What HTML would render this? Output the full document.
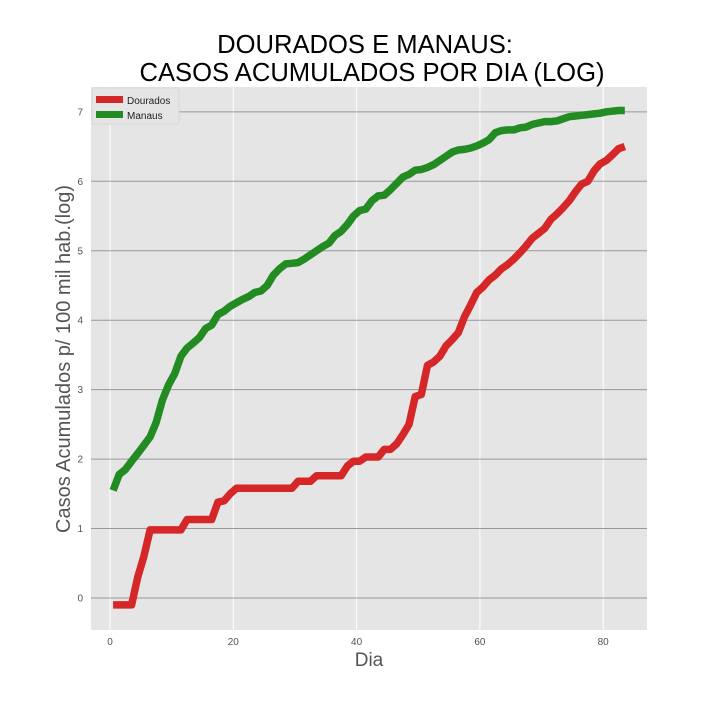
<!DOCTYPE html>
<html><head><meta charset="utf-8"><style>
body{margin:0;background:#fff;}
svg text{font-family:"Liberation Sans","DejaVu Sans",sans-serif;}
</style></head><body>
<svg id="chart" width="720" height="720" xmlns="http://www.w3.org/2000/svg">
<text x="365" y="53" text-anchor="middle" font-size="25.6" fill="#000">DOURADOS E MANAUS:</text>
<text x="372" y="81" text-anchor="middle" font-size="25.6" fill="#000">CASOS ACUMULADOS POR DIA (LOG)</text>
<rect x="91" y="87" width="556" height="543" fill="#e5e5e5"/>
<g id="grid"></g>
<g id="series"></g>
<g id="ticks"></g>
<text x="369" y="666" text-anchor="middle" font-size="19" fill="#555">Dia</text>
<text transform="translate(70,359) rotate(-90)" text-anchor="middle" font-size="20" fill="#555">Casos Acumulados p/ 100 mil hab.(log)</text>
<g>
<rect x="92" y="88" width="87" height="36" fill="#e5e5e5" stroke="#d8d8d8" rx="2"/>
<rect x="96" y="96" width="27" height="7" fill="#d62728"/>
<text x="127" y="104" font-size="10" fill="#222">Dourados</text>
<rect x="96" y="111" width="27" height="7" fill="#228b22"/>
<text x="127" y="119" font-size="10" fill="#222">Manaus</text>
</g>
</svg>
<script>
const xTicks=[0,20,40,60,80];
const yTicks=[0,1,2,3,4,5,6,7];
const dourados=[-0.1,-0.1,-0.1,-0.1,0.3,0.6,0.98,0.98,0.98,0.98,0.98,0.98,1.13,1.13,1.13,1.13,1.13,1.38,1.4,1.5,1.58,1.58,1.58,1.58,1.58,1.58,1.58,1.58,1.58,1.58,1.68,1.68,1.68,1.76,1.76,1.76,1.76,1.76,1.9,1.97,1.97,2.03,2.03,2.03,2.14,2.14,2.22,2.35,2.5,2.9,2.93,3.35,3.4,3.48,3.63,3.72,3.82,4.05,4.22,4.4,4.48,4.58,4.65,4.74,4.8,4.88,4.97,5.07,5.18,5.25,5.32,5.45,5.53,5.62,5.72,5.85,5.96,6.0,6.15,6.25,6.3,6.38,6.47,6.5];
const manaus=[1.55,1.78,1.85,1.97,2.08,2.2,2.32,2.53,2.85,3.07,3.23,3.48,3.6,3.67,3.75,3.88,3.93,4.08,4.13,4.2,4.25,4.3,4.34,4.4,4.42,4.5,4.65,4.74,4.81,4.82,4.83,4.88,4.94,5.0,5.06,5.11,5.22,5.28,5.38,5.5,5.58,5.6,5.72,5.79,5.8,5.88,5.97,6.06,6.1,6.16,6.17,6.2,6.24,6.3,6.36,6.42,6.45,6.46,6.48,6.51,6.55,6.6,6.7,6.73,6.74,6.74,6.77,6.78,6.82,6.84,6.86,6.86,6.87,6.9,6.93,6.94,6.95,6.96,6.97,6.98,7.0,7.01,7.02,7.02];
const NS='http://www.w3.org/2000/svg';
const xs=v=>110+v*6.165;
const ys=v=>598-v*69.45;
const grid=document.getElementById('grid'),ticks=document.getElementById('ticks'),series=document.getElementById('series');
function mk(tag,attrs,parent){const e=document.createElementNS(NS,tag);for(const k in attrs)e.setAttribute(k,attrs[k]);parent.appendChild(e);return e;}
xTicks.forEach(t=>{
  const l=mk('line',{x1:xs(t),x2:xs(t),y1:87,y2:630,stroke:'#fff','stroke-width':1},grid);
  
  
  const tx=mk('text',{x:xs(t),y:645,'text-anchor':'middle','font-size':10,fill:'#555'},ticks);
  tx.textContent=t;
  
  
});
yTicks.forEach(t=>{
  const l=mk('line',{x1:91,x2:647,y1:ys(t),y2:ys(t),stroke:'#999','stroke-width':1},grid);
  
  
  const tx=mk('text',{x:83,y:ys(t)+3.5,'text-anchor':'end','font-size':10,fill:'#555'},ticks);
  tx.textContent=t;
  
  
});
function line(data,color,name){
  const d=data.map((v,i)=>(i?'L':'M')+xs(i+0.5).toFixed(1)+','+ys(v).toFixed(1)).join('');
  const p=mk('path',{d:d,fill:'none',stroke:color,'stroke-width':7.5,'stroke-linejoin':'round'},series);
  
  
}
line(dourados,'#d62728','dourados-line');
line(manaus,'#228b22','manaus-line');
</script>
</body></html>
